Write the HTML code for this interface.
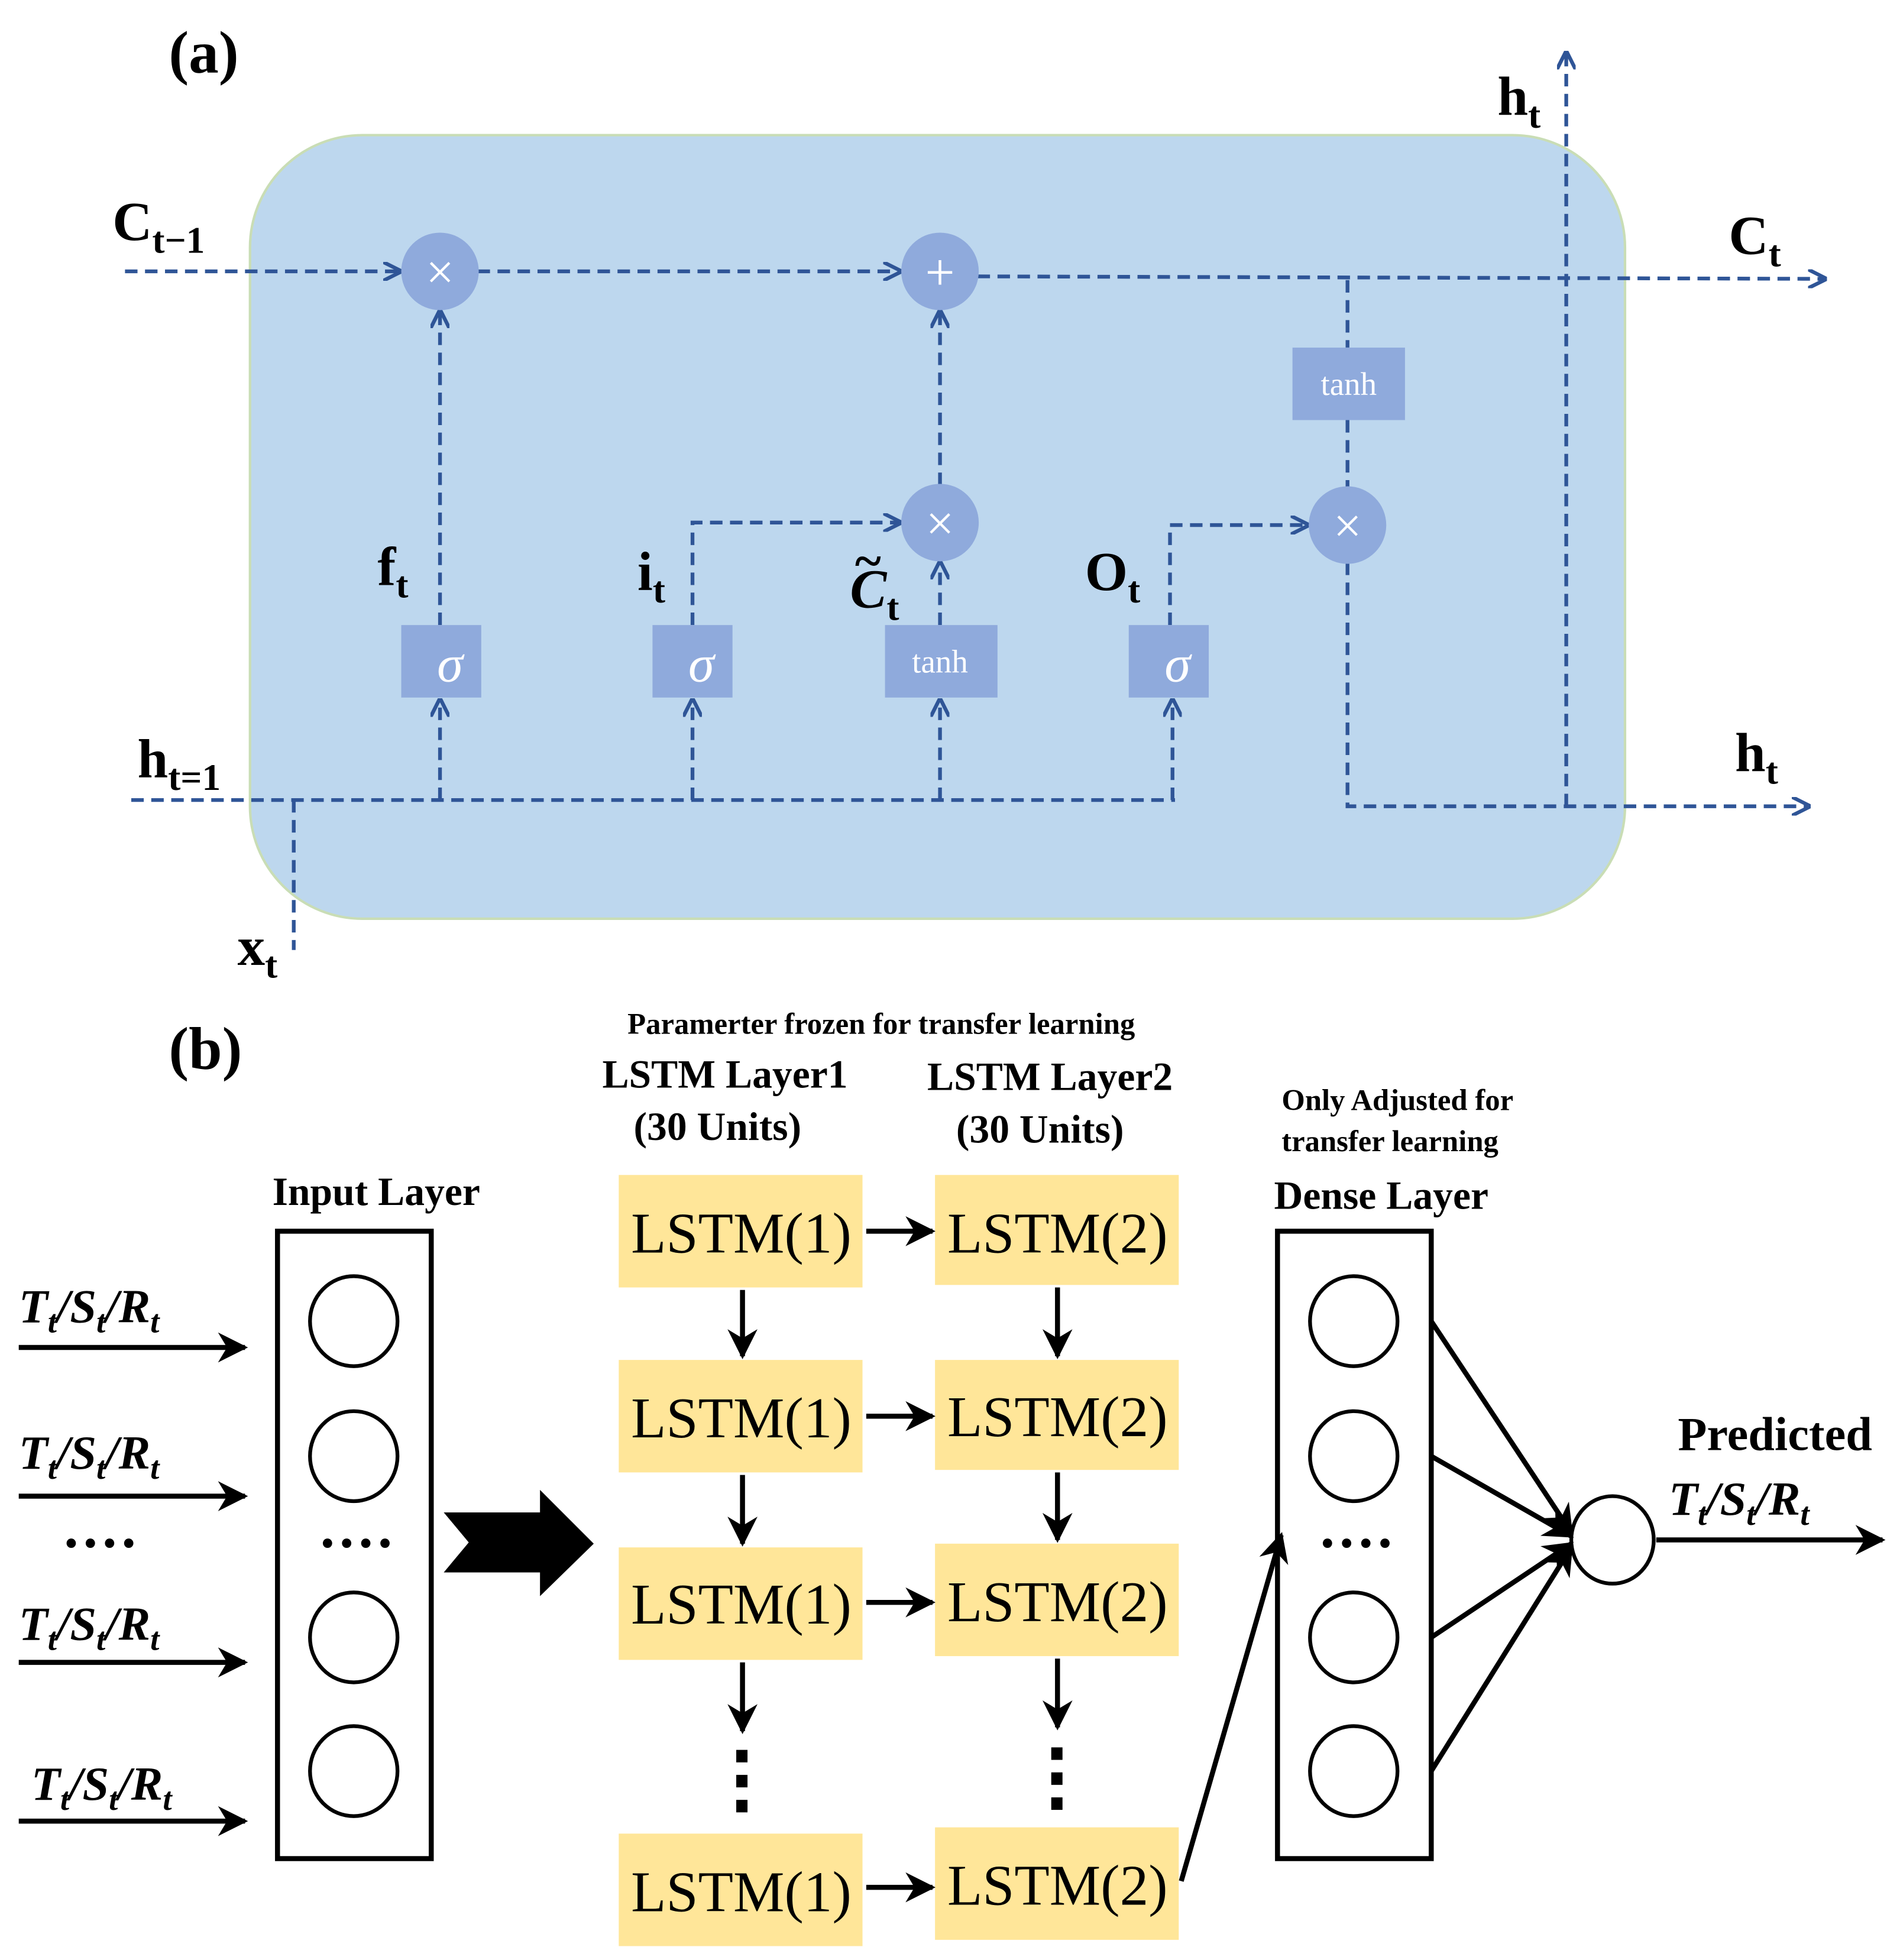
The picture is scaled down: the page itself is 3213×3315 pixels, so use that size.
<!DOCTYPE html>
<html><head><meta charset="utf-8"><style>
html,body{margin:0;padding:0;background:#fff}
svg{display:block}
text{font-family:"Liberation Serif",serif}
</style></head><body>
<svg width="3213" height="3315" viewBox="0 0 1520 1568" xmlns="http://www.w3.org/2000/svg">
<defs>
<marker id="ab" viewBox="0 0 10 10" refX="9" refY="5" markerWidth="5" markerHeight="5" orient="auto"><path d="M0,0 L10,5 L0,10" fill="none" stroke="#2f5597" stroke-width="2"/></marker>
<marker id="ak" viewBox="0 0 10 10" refX="9" refY="5" markerWidth="6" markerHeight="6" orient="auto"><path d="M0,0 L10,5 L0,10 L3,5 z" fill="#000"/></marker>
</defs>
<!-- (a) -->
<text x="135" y="58" font-size="48" font-weight="bold">(a)</text>
<rect x="200" y="108" width="1100" height="627" rx="90" fill="#bdd7ee" stroke="#c9ddb5" stroke-width="2"/>
<g stroke="#2f5597" stroke-width="3" stroke-dasharray="10,6" fill="none">
<line x1="100" y1="217" x2="320" y2="217" marker-end="url(#ab)"/>
<line x1="382" y1="217" x2="720" y2="217" marker-end="url(#ab)"/>
<line x1="782" y1="221" x2="1460" y2="223" marker-end="url(#ab)"/>
<line x1="352" y1="500" x2="352" y2="249" marker-end="url(#ab)"/>
<polyline points="554,500 554,418 720,418" marker-end="url(#ab)"/>
<line x1="752" y1="500" x2="752" y2="450" marker-end="url(#ab)"/>
<line x1="752" y1="388" x2="752" y2="249" marker-end="url(#ab)"/>
<polyline points="936,500 936,420 1046,420" marker-end="url(#ab)"/>
<line x1="1078" y1="224" x2="1078" y2="278"/>
<line x1="1078" y1="336" x2="1078" y2="390"/>
<polyline points="1078,450 1078,645 1447,645" marker-end="url(#ab)"/>
<line x1="1253" y1="645" x2="1253" y2="42" marker-end="url(#ab)"/>
<line x1="105" y1="640" x2="940" y2="640"/>
<line x1="235" y1="640" x2="235" y2="760"/>
<line x1="352" y1="640" x2="352" y2="560" marker-end="url(#ab)"/>
<line x1="554" y1="640" x2="554" y2="560" marker-end="url(#ab)"/>
<line x1="752" y1="640" x2="752" y2="560" marker-end="url(#ab)"/>
<line x1="938" y1="640" x2="938" y2="560" marker-end="url(#ab)"/>
</g>
<g fill="#8faadc">
<circle cx="352" cy="217" r="31"/><circle cx="752" cy="217" r="31"/>
<circle cx="752" cy="418" r="31"/><circle cx="1078" cy="420" r="31"/>
<rect x="321" y="500" width="64" height="58"/><rect x="522" y="500" width="64" height="58"/>
<rect x="708" y="500" width="90" height="58"/><rect x="903" y="500" width="64" height="58"/>
<rect x="1034" y="278" width="90" height="58"/>
</g>
<g fill="#fff" text-anchor="middle">
<text x="352" y="231" font-size="40">×</text><text x="752" y="232" font-size="42">+</text>
<text x="752" y="432" font-size="40">×</text><text x="1078" y="434" font-size="40">×</text>
<text x="360" y="545" font-size="42" font-style="italic">σ</text>
<text x="561" y="545" font-size="42" font-style="italic">σ</text>
<text x="942" y="545" font-size="42" font-style="italic">σ</text>
<text x="752" y="538" font-size="26">tanh</text>
<text x="1079" y="316" font-size="26">tanh</text>
</g>
<g font-weight="bold" font-size="44">
<text x="90" y="192">C<tspan font-size="30" dy="10">t−1</tspan></text>
<text x="1383" y="203">C<tspan font-size="30" dy="10">t</tspan></text>
<text x="1198" y="92">h<tspan font-size="30" dy="10">t</tspan></text>
<text x="1388" y="617">h<tspan font-size="30" dy="10">t</tspan></text>
<text x="110" y="622">h<tspan font-size="30" dy="10">t=1</tspan></text>
<text x="190" y="772">x<tspan font-size="30" dy="10">t</tspan></text>
<text x="302" y="468">f<tspan font-size="30" dy="10">t</tspan></text>
<text x="510" y="472">i<tspan font-size="30" dy="10">t</tspan></text>
<text x="868" y="472">O<tspan font-size="30" dy="10">t</tspan></text>
<text x="680" y="486" font-style="italic">C<tspan font-size="30" dy="10" font-style="normal">t</tspan></text>
<text x="684" y="462" font-size="40">~</text>
</g>
<!-- (b) -->
<text x="135" y="855" font-size="48" font-weight="bold">(b)</text>
<g font-weight="bold" text-anchor="middle">
<text x="705" y="827" font-size="24">Paramerter frozen for transfer learning</text>
<text x="580" y="870" font-size="32">LSTM Layer1</text>
<text x="574" y="912" font-size="32">(30 Units)</text>
<text x="840" y="872" font-size="32">LSTM Layer2</text>
<text x="832" y="914" font-size="32">(30 Units)</text>
<text x="301" y="964" font-size="32">Input Layer</text>
<text x="1105" y="967" font-size="32">Dense Layer</text>
<text x="1118" y="888" font-size="24">Only Adjusted for</text>
<text x="1112" y="921" font-size="24">transfer learning</text>
<text x="1420" y="1160" font-size="38">Predicted</text>
</g>
<g fill="none" stroke="#000" stroke-width="4">
<rect x="222" y="985" width="123" height="502"/>
<rect x="1022" y="985" width="123" height="502"/>
</g>
<g fill="none" stroke="#000" stroke-width="3">
<ellipse cx="283" cy="1057" rx="35" ry="36"/><ellipse cx="283" cy="1165" rx="35" ry="36"/>
<ellipse cx="283" cy="1310" rx="35" ry="36"/><ellipse cx="283" cy="1417" rx="35" ry="36"/>
<ellipse cx="1083" cy="1057" rx="35" ry="36"/><ellipse cx="1083" cy="1165" rx="35" ry="36"/>
<ellipse cx="1083" cy="1310" rx="35" ry="36"/><ellipse cx="1083" cy="1417" rx="35" ry="36"/>
<ellipse cx="1290" cy="1232" rx="33" ry="35"/>
</g>
<g font-size="46" font-weight="bold" text-anchor="middle">
<text x="80" y="1250">····</text><text x="285" y="1250">····</text><text x="1085" y="1250">····</text>
</g>
<g font-size="38" font-style="italic" font-weight="bold">
<text x="15" y="1058">T<tspan font-size="26" dy="8">t</tspan><tspan dy="-8">/S</tspan><tspan font-size="26" dy="8">t</tspan><tspan dy="-8">/R</tspan><tspan font-size="26" dy="8">t</tspan></text>
<text x="15" y="1175">T<tspan font-size="26" dy="8">t</tspan><tspan dy="-8">/S</tspan><tspan font-size="26" dy="8">t</tspan><tspan dy="-8">/R</tspan><tspan font-size="26" dy="8">t</tspan></text>
<text x="15" y="1312">T<tspan font-size="26" dy="8">t</tspan><tspan dy="-8">/S</tspan><tspan font-size="26" dy="8">t</tspan><tspan dy="-8">/R</tspan><tspan font-size="26" dy="8">t</tspan></text>
<text x="25" y="1440">T<tspan font-size="26" dy="8">t</tspan><tspan dy="-8">/S</tspan><tspan font-size="26" dy="8">t</tspan><tspan dy="-8">/R</tspan><tspan font-size="26" dy="8">t</tspan></text>
<text x="1335" y="1212">T<tspan font-size="26" dy="8">t</tspan><tspan dy="-8">/S</tspan><tspan font-size="26" dy="8">t</tspan><tspan dy="-8">/R</tspan><tspan font-size="26" dy="8">t</tspan></text>
</g>
<g stroke="#000" stroke-width="4" fill="none" marker-end="url(#ak)">
<line x1="15" y1="1078" x2="196" y2="1078"/>
<line x1="15" y1="1197" x2="196" y2="1197"/>
<line x1="15" y1="1330" x2="196" y2="1330"/>
<line x1="15" y1="1457" x2="196" y2="1457"/>
<line x1="1325" y1="1232" x2="1506" y2="1232"/>
<line x1="945" y1="1505" x2="1025" y2="1228"/>
<line x1="1145" y1="1057" x2="1257" y2="1226"/>
<line x1="1145" y1="1165" x2="1257" y2="1229"/>
<line x1="1145" y1="1310" x2="1257" y2="1235"/>
<line x1="1145" y1="1417" x2="1257" y2="1238"/>
</g>
<path d="M355,1210 L432,1210 L432,1192 L475,1235 L432,1277 L432,1258 L355,1258 L375,1234 z" fill="#000"/>
<g fill="#ffe699">
<rect x="495" y="940" width="195" height="90"/><rect x="748" y="940" width="195" height="88"/>
<rect x="495" y="1088" width="195" height="90"/><rect x="748" y="1088" width="195" height="88"/>
<rect x="495" y="1238" width="195" height="90"/><rect x="748" y="1235" width="195" height="90"/>
<rect x="495" y="1467" width="195" height="90"/><rect x="748" y="1462" width="195" height="90"/>
</g>
<g font-size="46" text-anchor="middle">
<text x="593" y="1002">LSTM(1)</text><text x="846" y="1002">LSTM(2)</text>
<text x="593" y="1150">LSTM(1)</text><text x="846" y="1149">LSTM(2)</text>
<text x="593" y="1299">LSTM(1)</text><text x="846" y="1297">LSTM(2)</text>
<text x="593" y="1529">LSTM(1)</text><text x="846" y="1524">LSTM(2)</text>
</g>
<g stroke="#000" stroke-width="4" marker-end="url(#ak)">
<line x1="693" y1="985" x2="746" y2="985"/>
<line x1="693" y1="1133" x2="746" y2="1133"/>
<line x1="693" y1="1282" x2="746" y2="1282"/>
<line x1="693" y1="1510" x2="746" y2="1510"/>
<line x1="594" y1="1032" x2="594" y2="1085"/>
<line x1="594" y1="1180" x2="594" y2="1235"/>
<line x1="594" y1="1330" x2="594" y2="1385"/>
<line x1="846" y1="1030" x2="846" y2="1085"/>
<line x1="846" y1="1178" x2="846" y2="1232"/>
<line x1="846" y1="1327" x2="846" y2="1382"/>
</g>
<g fill="#000">
<rect x="589" y="1400" width="9" height="10"/><rect x="589" y="1420" width="9" height="10"/><rect x="589" y="1440" width="9" height="10"/>
<rect x="841" y="1398" width="9" height="10"/><rect x="841" y="1418" width="9" height="10"/><rect x="841" y="1438" width="9" height="10"/>
</g>
</svg>
</body></html>
